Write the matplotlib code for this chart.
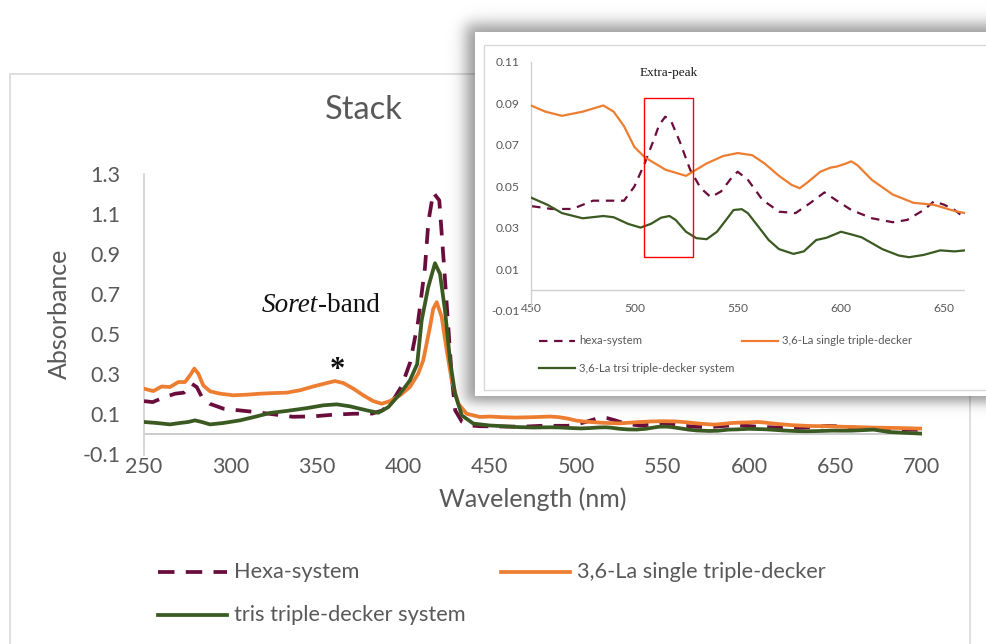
import numpy as np
import matplotlib
matplotlib.use("Agg")
import matplotlib.pyplot as plt
from matplotlib.lines import Line2D
from matplotlib.patches import Rectangle

plt.rcParams["font.family"] = ["Lato", "DejaVu Sans"]
plt.rcParams["axes.unicode_minus"] = False

# ---------------- spectra (wavelength in nm, absorbance) ----------------
wl_hexa = [250, 255, 262, 268, 273, 277.5, 280.5, 283.5, 288, 296, 305, 315, 325,
           336, 348, 359, 371, 382, 388, 394, 399, 404, 408.5, 412.5, 414.5, 417.3,
           420.8, 422.2, 424, 426, 428, 430, 434, 438.5, 444,
           450, 460, 470, 480, 490, 495, 500, 505, 510, 512, 515, 518, 522, 527,
           532, 537, 542, 547, 550, 555, 562, 570, 578, 585, 592, 598, 605, 615,
           625, 632, 640, 645, 650, 655, 660, 670, 680, 690, 700]
abs_hexa = [0.166, 0.161, 0.186, 0.203, 0.208, 0.253, 0.236, 0.186, 0.153, 0.128,
            0.120, 0.111, 0.100, 0.088, 0.090, 0.098, 0.103, 0.104, 0.120, 0.170,
            0.240, 0.360, 0.560, 0.830, 1.060, 1.205, 1.166, 1.000, 0.784, 0.535,
            0.286, 0.120, 0.062, 0.045, 0.041,
            0.0404, 0.039, 0.039, 0.043, 0.043, 0.043, 0.0498, 0.061, 0.074, 0.0796,
            0.0836, 0.081, 0.0715, 0.058, 0.0492, 0.0447, 0.0475, 0.054, 0.057,
            0.053, 0.0434, 0.0377, 0.037, 0.0418, 0.047, 0.043, 0.0385, 0.0345,
            0.0326, 0.0337, 0.0385, 0.0427, 0.041, 0.0385, 0.0345, 0.029, 0.027,
            0.025, 0.022]

wl_single = [250, 255.4, 260.2, 265, 269.9, 273.7, 276.6, 279.1, 281.4, 284.3, 288.2,
             294, 301.6, 309.4, 317.1, 324.8, 332.5, 340.2, 347.9, 355.7, 360.5,
             365.3, 371.1, 376.8, 382.6, 387.5, 392.3, 398.1, 403.8, 408.6, 411.5,
             415.4, 417.3, 419.3, 422.2, 425.1, 428, 431.8, 436.6, 444.3,
             450, 457, 465, 475, 485, 490, 495, 500, 505, 515, 525, 535, 543, 550,
             557, 563, 570, 576, 580, 584, 590, 595, 598, 602, 605, 608, 615, 625,
             635, 645, 655, 660, 672, 686, 700]
abs_single = [0.228, 0.216, 0.239, 0.236, 0.261, 0.261, 0.294, 0.328, 0.303, 0.244,
              0.215, 0.203, 0.195, 0.198, 0.203, 0.206, 0.208, 0.220, 0.239, 0.256,
              0.266, 0.256, 0.228, 0.195, 0.166, 0.153, 0.166, 0.195, 0.236, 0.303,
              0.369, 0.535, 0.626, 0.659, 0.585, 0.419, 0.269, 0.153, 0.103, 0.087,
              0.089, 0.086, 0.084, 0.086, 0.089, 0.086, 0.079, 0.069, 0.064, 0.058,
              0.055, 0.061, 0.0646, 0.066, 0.065, 0.061, 0.055, 0.0507, 0.049,
              0.052, 0.057, 0.059, 0.0595, 0.0608, 0.062, 0.0601, 0.053, 0.046,
              0.042, 0.041, 0.038, 0.037, 0.034, 0.032, 0.029]

wl_tris = [250, 257.3, 265, 270.8, 275.6, 279.5, 283.4, 288.2, 295.9, 305.5, 315.2,
           322.9, 332.5, 344.1, 353.7, 361.5, 369.1, 378.8, 385.5, 391.3, 398.1,
           403.8, 408, 410.6, 414.4, 418.3, 421.2, 424.1, 427, 429.9, 433.8, 440.5,
           450, 458, 465, 475, 485, 490, 497, 503, 508, 513, 517, 520, 525, 530,
           535, 540, 545, 548, 552, 555, 560, 565, 570, 577, 582, 588, 593, 600,
           605, 610, 620, 628, 633, 640, 648, 655, 660, 672, 681, 690, 700]
abs_tris = [0.062, 0.057, 0.050, 0.057, 0.062, 0.070, 0.062, 0.050, 0.057, 0.070,
            0.090, 0.107, 0.117, 0.131, 0.145, 0.150, 0.140, 0.120, 0.108, 0.136,
            0.203, 0.269, 0.350, 0.568, 0.734, 0.853, 0.800, 0.618, 0.369, 0.203,
            0.095, 0.054,
            0.0445, 0.041, 0.037, 0.0345, 0.0356, 0.035, 0.0318, 0.030, 0.0318,
            0.0348, 0.0356, 0.0337, 0.028, 0.0249, 0.0244, 0.028, 0.0345, 0.0385,
            0.0389, 0.0369, 0.0305, 0.024, 0.0196, 0.0173, 0.0185, 0.024, 0.0251,
            0.028, 0.0267, 0.0253, 0.0196, 0.0165, 0.0157, 0.0168, 0.019, 0.0185,
            0.019, 0.024, 0.012, 0.008, 0.004]

main_labels = ["Hexa-system", "3,6-La single triple-decker", "tris triple-decker system"]
inset_labels = ["hexa-system", "3,6-La single triple-decker", "3,6-La trsi triple-decker system"]

main_xticks = [250, 300, 350, 400, 450, 500, 550, 600, 650, 700]
main_yticks = [-0.1, 0.1, 0.3, 0.5, 0.7, 0.9, 1.1, 1.3]
main_yticklabels = ["-0.1", "0.1", "0.3", "0.5", "0.7", "0.9", "1.1", "1.3"]
inset_xticks = [450, 500, 550, 600, 650]
inset_yticks = [-0.01, 0.01, 0.03, 0.05, 0.07, 0.09, 0.11]
inset_yticklabels = ["-0.01", "0.01", "0.03", "0.05", "0.07", "0.09", "0.11"]

# extra-peak window (nm, absorbance)
box_wl = (504.5, 528.5)
box_abs = (0.0157, 0.0925)

# ---------------- styling ----------------
C_HEXA = "#6B0D3C"
C_SINGLE = "#ED7D31"
C_TRIS = "#3B5A22"
C_TEXT = "#595959"
C_AXIS = "#D0D0D0"

W, H, DPI = 987, 644, 100
fig = plt.figure(figsize=(W / DPI, H / DPI), dpi=DPI)
fig.patch.set_facecolor("white")


def fx(x):
    return x / W


def fy(y):
    return 1 - y / H


def rect_px(x0, y0, x1, y1):
    return [fx(x0), fy(y1), (x1 - x0) / W, (y1 - y0) / H]


series = [
    (wl_hexa, abs_hexa, C_HEXA, True),
    (wl_single, abs_single, C_SINGLE, False),
    (wl_tris, abs_tris, C_TRIS, False),
]

# chart area border
fig.add_artist(Rectangle((fx(9.5), fy(700)), (970 - 9.5) / W, (700 - 74) / H,
                         transform=fig.transFigure, fill=False, ec="#D9D9D9",
                         lw=1.2, zorder=0.5))

# ---------------- main chart ----------------
ax = fig.add_axes(rect_px(144, 173.5, 922, 454.5), zorder=1)
ax.set_facecolor("none")
for x, y, c, dashed in series:
    if dashed:
        ax.plot(x, y, color=c, lw=2.7, ls=(0, (4.2, 3.0)), zorder=3,
                solid_joinstyle="round")
    else:
        ax.plot(x, y, color=c, lw=2.7, zorder=3, solid_capstyle="round",
                solid_joinstyle="round")
ax.set_xlim(250, 700)
ax.set_ylim(-0.1, 1.3)
ax.set_xticks(main_xticks)
ax.set_xticklabels([str(v) for v in main_xticks])
ax.set_yticks(main_yticks)
ax.set_yticklabels(main_yticklabels)
ax.axhline(0, color="#C8C8C8", lw=1.3, zorder=2)
for s in ("top", "right", "bottom"):
    ax.spines[s].set_visible(False)
ax.spines["left"].set_color(C_AXIS)
ax.spines["left"].set_linewidth(1.2)
ax.tick_params(axis="both", length=0, labelsize=15.5, labelcolor=C_TEXT)
ax.tick_params(axis="y", pad=17)
ax.tick_params(axis="x", pad=2)
ax.set_xlabel("Wavelength (nm)", fontsize=18, color=C_TEXT, labelpad=7)
ax.set_ylabel("Absorbance", fontsize=18, color=C_TEXT, labelpad=8)

t1 = ax.text(318.2, 0.578, "Soret", family="Liberation Serif", style="italic",
             fontsize=19.5, color="#111111", va="bottom", ha="left")
ax.annotate("-band", xy=(1, 0), xycoords=t1, family="Liberation Serif",
            fontsize=19.5, color="#111111", va="bottom", ha="left")
ax.text(361.6, 0.318, "*", family="Liberation Serif", fontsize=22,
        fontweight="bold", color="#111111", ha="center", va="center")

fig.text(fx(364), fy(110), "Stack", ha="center", va="center", fontsize=23.5,
         color=C_TEXT)

# main legend
leg_rows = [(572, 158, 227, 234, 0), (572, 501, 570, 577, 1), (615, 158, 227, 234, 2)]
for yy, x0, x1, xt, i in leg_rows:
    _, _, c, dashed = series[i]
    ln = Line2D([fx(x0), fx(x1)], [fy(yy), fy(yy)], transform=fig.transFigure,
                color=c, lw=2.7, ls=(0, (4.4, 3.0)) if dashed else "-", zorder=5)
    fig.add_artist(ln)
    fig.text(fx(xt), fy(yy), main_labels[i], ha="left", va="center",
             fontsize=15.7, color=C_TEXT, zorder=5)

# ---------------- inset with drop shadow ----------------
sh_ax = fig.add_axes([0, 0, 1, 1], zorder=2)
sh_ax.set_axis_off()
sh_ax.set_facecolor("none")
gx = np.arange(W) + 0.5
gy = np.arange(H) + 0.5
fxr = 0.5 * (1 + np.tanh((gx - 466) / 9.0)) * 0.5 * (1 + np.tanh((1200 - gx) / 9.0))
fyr = 0.5 * (1 + np.tanh((gy - 24) / 9.0)) * 0.5 * (1 + np.tanh((402 - gy) / 7.0))
alpha = 0.40 * np.outer(fyr, fxr)
shadow = np.zeros((H, W, 4))
shadow[..., 3] = alpha
sh_ax.imshow(shadow, extent=(0, 1, 0, 1), aspect="auto", interpolation="bilinear")
sh_ax.set_xlim(0, 1)
sh_ax.set_ylim(0, 1)

fig.add_artist(Rectangle((fx(475), fy(396)), (1000 - 475) / W, (396 - 32) / H,
                         transform=fig.transFigure, fc="white", ec="none", zorder=3))
fig.add_artist(Rectangle((fx(484), fy(390)), (1000 - 484) / W, (390 - 45) / H,
                         transform=fig.transFigure, fill=False, ec="#D9D9D9",
                         lw=1.0, zorder=3.1))

ax2 = fig.add_axes(rect_px(531, 62, 965, 310.4), zorder=4)
ax2.set_facecolor("none")
for x, y, c, dashed in series:
    if dashed:
        ax2.plot(x, y, color=c, lw=1.6, ls=(0, (3.8, 3.0)), zorder=3,
                 solid_joinstyle="round")
    else:
        ax2.plot(x, y, color=c, lw=1.6, zorder=3, solid_joinstyle="round")
ax2.set_xlim(450, 660)
ax2.set_ylim(-0.01, 0.11)
ax2.set_xticks(inset_xticks)
ax2.set_xticklabels([str(v) for v in inset_xticks])
ax2.set_yticks(inset_yticks)
ax2.set_yticklabels(inset_yticklabels)
ax2.axhline(0, color="#D0D0D0", lw=1.0, zorder=2)
for s in ("top", "right", "bottom"):
    ax2.spines[s].set_visible(False)
ax2.spines["left"].set_color(C_AXIS)
ax2.spines["left"].set_linewidth(1.0)
ax2.tick_params(axis="both", length=0, labelsize=8.7, labelcolor=C_TEXT)
ax2.tick_params(axis="y", pad=8.5)
ax2.tick_params(axis="x", pad=-5)
ax2.add_patch(Rectangle((box_wl[0], box_abs[0]), box_wl[1] - box_wl[0],
                        box_abs[1] - box_abs[0], fill=False, ec="#FF0000",
                        lw=1.0, zorder=4))
ax2.text(516.5, 0.1048, "Extra-peak", family="Liberation Serif", fontsize=9.5,
         color="#1A1A1A", ha="center", va="center")

inset_rows = [(341, 539, 575, 579, 0), (341, 742, 778, 782, 1), (368, 539, 575, 579, 2)]
for yy, x0, x1, xt, i in inset_rows:
    _, _, c, dashed = series[i]
    ln = Line2D([fx(x0), fx(x1)], [fy(yy), fy(yy)], transform=fig.transFigure,
                color=c, lw=1.6, ls=(0, (3.8, 3.0)) if dashed else "-", zorder=5)
    fig.add_artist(ln)
    fig.text(fx(xt), fy(yy), inset_labels[i], ha="left", va="center",
             fontsize=8.2, color=C_TEXT, zorder=5)

fig.savefig("out.png", dpi=DPI, facecolor="white")
